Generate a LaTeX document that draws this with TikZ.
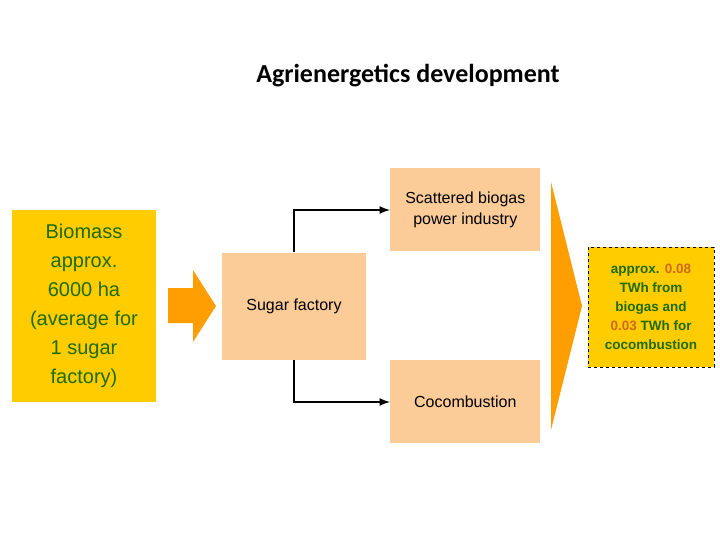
\documentclass[tikz,border=0pt]{standalone}
\usepackage{fontspec}
\setmainfont{Liberation Sans}
\newfontfamily\titlefont{Carlito}
\usetikzlibrary{positioning}
\definecolor{boxyellow}{HTML}{FFCC00}
\definecolor{boxpeach}{HTML}{FBCB98}
\definecolor{arroworange}{HTML}{FF9E00}
\definecolor{textgreen}{HTML}{1F6B00}
\definecolor{numorange}{HTML}{D2691E}
\begin{document}
\begin{tikzpicture}[x=1pt,y=-1pt,>=latex,semithick]
	\tikzstyle{peach}=[fill=boxpeach, inner sep=0pt, align=center, font=\fontsize{16}{21}\selectfont]
	\useasboundingbox (0,0) rectangle (720,540);
		\node[font=\titlefont\bfseries\fontsize{26}{30}\selectfont] (title) at (408,76) {Agrienergetics development};
		\node[fill=boxyellow, minimum width=144pt, minimum height=192pt, inner sep=0pt, align=center, text=textgreen, font=\fontsize{20}{29}\selectfont] (bio) at (84,306) {Biomass\\approx.\\6000 ha\\(average for\\1 sugar\\factory)};
		\node[peach, minimum width=144pt, minimum height=107pt] (sugar) at (294,306) {Sugar factory};
		\node[peach, minimum width=150pt, minimum height=83pt, anchor=north west] (scat) at (390,168) {Scattered biogas\\power industry};
		\node[peach, minimum width=150pt, minimum height=83pt, anchor=north west] (cocomb) at (390,360) {Cocombustion};
		\node[fill=boxyellow, draw, dashed, thin, minimum width=126pt, minimum height=120pt, inner sep=0pt, align=center, text=textgreen, font=\bfseries\fontsize{13.5}{19}\selectfont] (res) at (651,307) {approx. \textcolor{numorange}{0.08}\\TWh from\\biogas and\\\textcolor{numorange}{0.03} TWh for\\cocombustion};
		% arrows
		\fill[arroworange] (168,288) -- (193,288) -- (193,270) -- (216,306) -- (193,342) -- (193,323) -- (168,323) -- cycle;
		\fill[arroworange] (551,182) -- (582,306) -- (551,430) -- cycle;
		\draw[->, line width=2.5pt] (sugar.north) |- (scat.west |- 0,210);
		\draw[->, line width=2.5pt] (sugar.south) |- (cocomb.west |- 0,402);
\end{tikzpicture}
\end{document}
